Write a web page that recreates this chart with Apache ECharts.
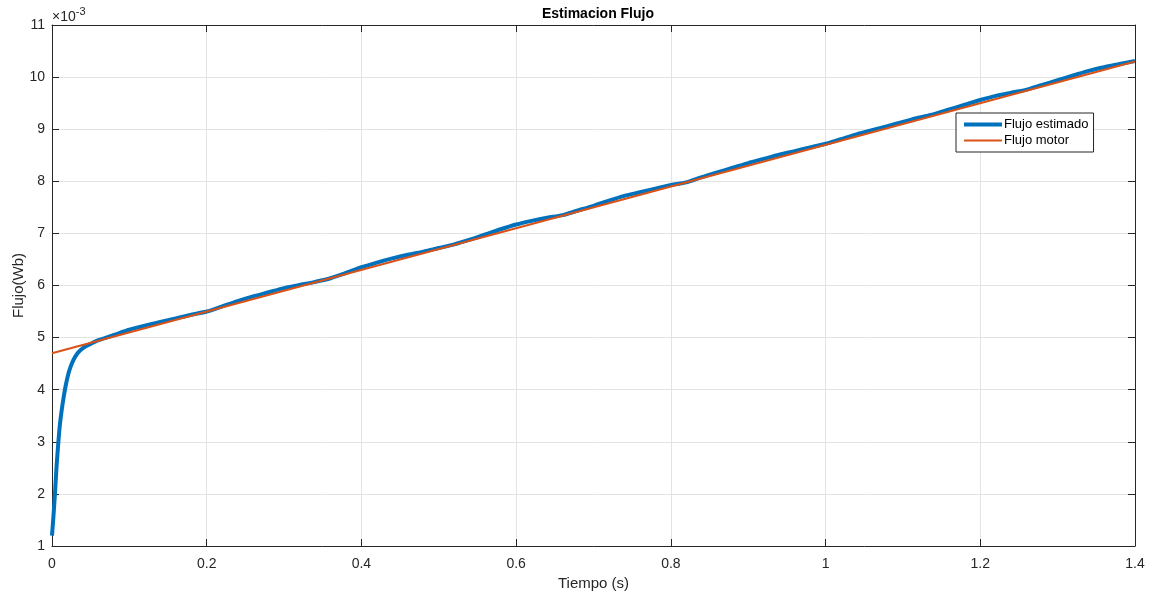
<!DOCTYPE html>
<html>
<head>
<meta charset="utf-8">
<script src="https://cdn.jsdelivr.net/npm/echarts@6/dist/echarts.min.js"></script>
<style>
html,body{margin:0;padding:0;background:#fff;}
#c{width:1151px;height:595px;}
</style>
</head>
<body>
<div id="c"></div>
<script>
// Time (s) and flux values (in units of 1e-3 Wb)
const estTime = [0, 0.002, 0.004, 0.006, 0.008, 0.010, 0.012, 0.015, 0.018, 0.022, 0.027, 0.033, 0.04, 0.05,
  0.06, 0.08, 0.10, 0.12, 0.14, 0.16, 0.18, 0.20, 0.22, 0.24, 0.26, 0.28, 0.30, 0.32, 0.34, 0.36, 0.38,
  0.40, 0.42, 0.44, 0.46, 0.48, 0.50, 0.52, 0.54, 0.56, 0.58, 0.60, 0.62, 0.64, 0.66, 0.68, 0.70,
  0.72, 0.74, 0.76, 0.78, 0.80, 0.82, 0.84, 0.86, 0.88, 0.90, 0.92, 0.94, 0.96, 0.98, 1.00,
  1.02, 1.04, 1.06, 1.08, 1.10, 1.12, 1.14, 1.16, 1.18, 1.20, 1.22, 1.24, 1.26, 1.28, 1.30,
  1.32, 1.34, 1.36, 1.38, 1.40];
const estFlux = [1.2, 1.6, 2.05, 2.55, 2.95, 3.3, 3.55, 3.85, 4.1, 4.35, 4.55, 4.7, 4.8, 4.88,
  4.95, 5.05, 5.15, 5.23, 5.30, 5.37, 5.44, 5.50, 5.60, 5.70, 5.79, 5.87, 5.95, 6.01, 6.07, 6.14, 6.24,
  6.35, 6.44, 6.52, 6.59, 6.65, 6.72, 6.79, 6.88, 6.98, 7.08, 7.17, 7.24, 7.30, 7.35, 7.44, 7.53,
  7.63, 7.72, 7.79, 7.86, 7.93, 7.98, 8.08, 8.17, 8.26, 8.35, 8.43, 8.51, 8.58, 8.65, 8.72,
  8.81, 8.90, 8.98, 9.06, 9.14, 9.22, 9.29, 9.38, 9.47, 9.56, 9.64, 9.70, 9.76, 9.85, 9.94,
  10.03, 10.12, 10.19, 10.25, 10.31];
const motorTime = [0, 1.4];
const motorFlux = [4.7, 10.3];
const xTicks = [0, 0.2, 0.4, 0.6, 0.8, 1, 1.2, 1.4];
const yTicks = [1, 2, 3, 4, 5, 6, 7, 8, 9, 10, 11];

const FONT = '"Liberation Sans", Arial, Helvetica, sans-serif';
const AX = '#262626';
const GRID = '#e3e3e3';

const chart = echarts.init(document.getElementById('c'), null, {renderer: 'canvas'});

const tickStyle = {show: true, inside: true, length: 7, lineStyle: {color: AX, width: 1}};
const lineStyleAx = {show: true, onZero: false, lineStyle: {color: AX, width: 1}};

chart.setOption({
  animation: false,
  backgroundColor: '#ffffff',
  title: {
    text: 'Estimacion Flujo',
    left: 593, top: 2, textAlign: 'center',
    textStyle: {fontFamily: FONT, fontSize: 14, fontWeight: 'bold', color: '#000'}
  },
  grid: {left: 52, right: 16, top: 25, bottom: 49, containLabel: false, outerBoundsMode: 'none'},
  legend: {
    left: 956, top: 113,
    orient: 'vertical',
    backgroundColor: '#fff',
    borderColor: '#262626', borderWidth: 1, borderRadius: 0,
    padding: [5, 5, 5, 6],
    itemGap: 3,
    itemWidth: 38, itemHeight: 13,
    itemStyle: {opacity: 0, borderWidth: 0},
    textStyle: {fontFamily: FONT, fontSize: 13, color: '#000', padding: [0, 0, 0, -3]},
    data: [
      {name: 'Flujo estimado', lineStyle: {width: 4, color: '#0072BD'}},
      {name: 'Flujo motor', lineStyle: {width: 2, color: '#D95319'}}
    ]
  },
  xAxis: [{
    type: 'value', min: 0, max: 1.4, interval: 0.2, position: 'bottom',
    name: 'Tiempo (s)', nameLocation: 'middle', nameGap: 30, nameMoveOverlap: false,
    nameTextStyle: {fontFamily: FONT, fontSize: 15, color: AX},
    axisLabel: {fontFamily: FONT, fontSize: 14, color: AX, margin: 11,
      formatter: v => xTicks.includes(Math.round(v * 10) / 10) ? String(Math.round(v * 10) / 10) : ''},
    splitLine: {show: true, lineStyle: {color: GRID, width: 1}},
    axisLine: lineStyleAx, axisTick: tickStyle
  }, {
    type: 'value', min: 0, max: 1.4, interval: 0.2, position: 'top',
    axisLabel: {show: false}, splitLine: {show: false},
    axisLine: lineStyleAx, axisTick: tickStyle
  }],
  yAxis: [{
    type: 'value', min: 1, max: 11, interval: 1, position: 'left',
    name: 'Flujo(Wb)', nameLocation: 'middle', nameGap: 26, nameMoveOverlap: false,
    nameTextStyle: {fontFamily: FONT, fontSize: 15, color: AX},
    axisLabel: {fontFamily: FONT, fontSize: 14, color: AX, margin: 7,
      formatter: v => yTicks.includes(v) ? String(v) : ''},
    splitLine: {show: true, lineStyle: {color: GRID, width: 1}},
    axisLine: lineStyleAx, axisTick: tickStyle
  }, {
    type: 'value', min: 1, max: 11, interval: 1, position: 'right',
    axisLabel: {show: false}, splitLine: {show: false},
    axisLine: lineStyleAx, axisTick: tickStyle
  }],
  graphic: [{
    type: 'text', left: 52, top: 6,
    style: {
      text: '{a|×10}{b|-3}',
      rich: {
        a: {fontFamily: FONT, fontSize: 14, fill: AX, verticalAlign: 'bottom'},
        b: {fontFamily: FONT, fontSize: 11, fill: AX, verticalAlign: 'top', padding: [0, 0, 7, 0]}
      }
    }
  }],
  series: [{
    name: 'Flujo estimado', type: 'line', xAxisIndex: 0, yAxisIndex: 0,
    data: estTime.map((t, i) => [t, estFlux[i]]),
    symbol: 'none', smooth: 0.3, z: 2,
    lineStyle: {color: '#0072BD', width: 4},
    itemStyle: {color: '#0072BD'}
  }, {
    name: 'Flujo motor', type: 'line', xAxisIndex: 0, yAxisIndex: 0,
    data: motorTime.map((t, i) => [t, motorFlux[i]]),
    symbol: 'none', z: 3,
    lineStyle: {color: '#D95319', width: 2},
    itemStyle: {color: '#D95319'}
  }]
});
</script>
</body>
</html>
